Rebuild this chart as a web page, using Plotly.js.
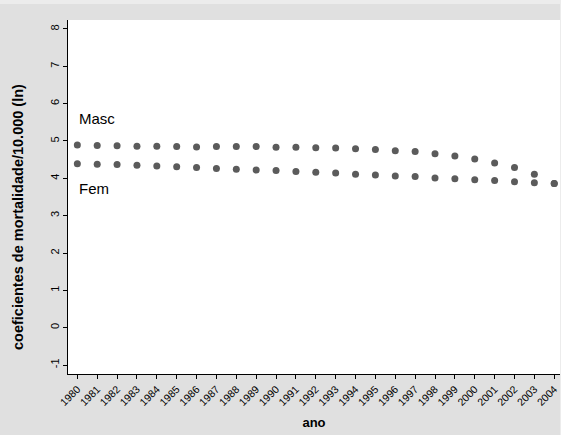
<!DOCTYPE html>
<html><head><meta charset="utf-8">
<script src="https://cdn.plot.ly/plotly-3.0.1.min.js"></script>
<style>
html,body{margin:0;padding:0;background:#ececec;}
#chart{position:absolute;left:0;top:4px;width:560px;height:431px;}
</style></head>
<body><div id="chart"></div>
<script>
const years = [1980,1981,1982,1983,1984,1985,1986,1987,1988,1989,1990,1991,1992,1993,1994,1995,1996,1997,1998,1999,2000,2001,2002,2003,2004];
const masc = [4.89,4.88,4.87,4.86,4.86,4.85,4.84,4.85,4.85,4.85,4.83,4.83,4.82,4.81,4.79,4.77,4.74,4.72,4.66,4.60,4.52,4.41,4.29,4.11,3.86];
const fem  = [4.39,4.38,4.37,4.35,4.33,4.31,4.29,4.26,4.24,4.22,4.21,4.18,4.16,4.14,4.11,4.09,4.06,4.05,4.01,3.99,3.96,3.94,3.91,3.88,3.86];
const yTicks = [-1,0,1,2,3,4,5,6,7,8];
const yTickText = ['-1','0','1','2','3','4','5','6','7','8'];
const mk = {color:'#5b5b5b', size:7};
const data = [
  {x:years, y:masc, mode:'markers', type:'scatter', marker:mk, name:'Masc', hoverinfo:'x+y'},
  {x:years, y:fem, mode:'markers', type:'scatter', marker:mk, name:'Fem', hoverinfo:'x+y'}
];
const layout = {
  width:560, height:431,
  margin:{l:68, r:0, t:16, b:61},
  paper_bgcolor:'#e0e0e0', plot_bgcolor:'#ffffff',
  showlegend:false,
  font:{family:'Liberation Sans, Arial, sans-serif', color:'#000'},
  xaxis:{range:[1979.53,2004.29], tickvals:years, ticktext:years.map(String), tickangle:-45,
    ticks:'outside', ticklen:4, tickcolor:'#000', showline:true, linecolor:'#000', linewidth:1,
    showgrid:false, zeroline:false, tickfont:{size:10.5},
    title:{text:'<b>ano</b>', font:{size:13}, standoff:10}},
  yaxis:{range:[-1.24,8.24], tickvals:yTicks, ticktext:yTickText, tickangle:-90,
    ticks:'outside', ticklen:4, tickcolor:'#000', showline:true, linecolor:'#000', linewidth:1,
    showgrid:false, zeroline:false, tickfont:{size:11}},
  annotations:[
    {x:-0.1016, y:0.4435, xref:'paper', yref:'paper', text:'<b>coeficientes de mortalidade/10.000 (ln)</b>',
     textangle:-90, showarrow:false, xanchor:'center', yanchor:'middle', font:{size:14.5}},
    {x:1980, y:5.59, xref:'x', yref:'y', text:'Masc', showarrow:false, xanchor:'left', font:{size:15}},
    {x:1980, y:3.74, xref:'x', yref:'y', text:'Fem', showarrow:false, xanchor:'left', font:{size:15}}
  ]
};
Plotly.newPlot('chart', data, layout, {staticPlot:true});
</script></body></html>
